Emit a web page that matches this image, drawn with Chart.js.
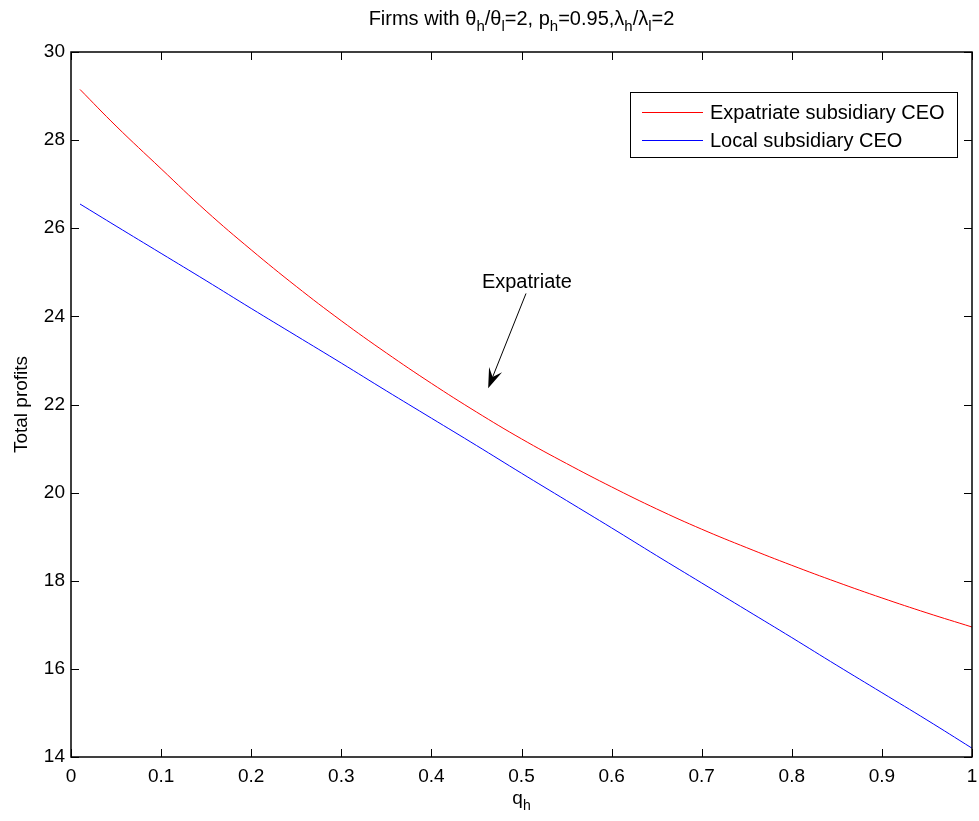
<!DOCTYPE html>
<html>
<head>
<meta charset="utf-8">
<script src="https://cdn.jsdelivr.net/npm/chart.js@4.4.0/dist/chart.umd.min.js"></script>
<style>
  html, body { margin: 0; padding: 0; background: #fff; }
</style>
</head>
<body>
<canvas id="profitChart" width="979" height="821"></canvas>
<script>
// q_h values (x axis)
var qValues = [0.01, 0.05, 0.1, 0.15, 0.2, 0.25, 0.3, 0.35, 0.4, 0.45, 0.5,
               0.55, 0.6, 0.65, 0.7, 0.75, 0.8, 0.85, 0.9, 0.95, 1.0];
// total profits, expatriate subsidiary CEO
var expatProfits = [29.15, 28.32, 27.35, 26.39, 25.51, 24.68, 23.9, 23.17, 22.48, 21.83, 21.22,
                    20.66, 20.13, 19.63, 19.17, 18.75, 18.35, 17.97, 17.61, 17.27, 16.95];
// total profits, local subsidiary CEO
var localProfits = [26.55, 26.05, 25.43, 24.81, 24.18, 23.56, 22.94, 22.31, 21.69, 21.07, 20.44,
                    19.82, 19.2, 18.57, 17.95, 17.33, 16.71, 16.08, 15.46, 14.84, 14.2];

var seriesLabels = ['Expatriate subsidiary CEO', 'Local subsidiary CEO'];

// title pieces: [text, isSubscript]
var titleParts = [['Firms with \u03b8', 0], ['h', 1], ['/\u03b8', 0], ['l', 1], ['=2, p', 0], ['h', 1],
                  ['=0.95,\u03bb', 0], ['h', 1], ['/\u03bb', 0], ['l', 1], ['=2', 0]];
var xTitleParts = [['q', 0], ['h', 1]];
var yTitle = 'Total profits';

// annotation: text position and arrow (data units)
var annotText = 'Expatriate';
var annotTextAt = [0.506, 24.78];
var annotArrowFrom = [0.505, 24.52];
var annotArrowTo = [0.463, 22.37];

var FONT = "'Liberation Sans', Arial, Helvetica, sans-serif";

function toPoints(xs, ys) {
  var pts = [];
  for (var i = 0; i < xs.length; i++) pts.push({x: xs[i], y: ys[i]});
  return pts;
}

function drawParts(c, parts, cx, baseY, size) {
  var subSize = Math.round(size * 0.75);
  var total = 0;
  parts.forEach(function (p) {
    c.font = (p[1] ? subSize : size) + 'px ' + FONT;
    total += c.measureText(p[0]).width;
  });
  var x = cx - total / 2;
  c.textBaseline = 'alphabetic';
  c.textAlign = 'left';
  parts.forEach(function (p) {
    c.font = (p[1] ? subSize : size) + 'px ' + FONT;
    c.fillText(p[0], x, baseY + (p[1] ? size * 0.3 : 0));
    x += c.measureText(p[0]).width;
  });
}

var matlabDecor = {
  id: 'matlabDecor',
  afterDraw: function (chart) {
    var c = chart.ctx;
    var a = chart.chartArea;
    var xs = chart.scales.x, ys = chart.scales.y;
    c.save();
    c.fillStyle = '#000';
    c.strokeStyle = '#000';

    // inward ticks on all four sides
    c.lineWidth = 1;
    var tl = 8;
    xs.ticks.forEach(function (t) {
      var px = Math.round(xs.getPixelForValue(t.value)) + 0.5;
      c.beginPath();
      c.moveTo(px, a.bottom); c.lineTo(px, a.bottom - tl);
      c.moveTo(px, a.top); c.lineTo(px, a.top + tl);
      c.stroke();
    });
    ys.ticks.forEach(function (t) {
      var py = Math.round(ys.getPixelForValue(t.value)) + 0.5;
      c.beginPath();
      c.moveTo(a.left, py); c.lineTo(a.left + tl, py);
      c.moveTo(a.right, py); c.lineTo(a.right - tl, py);
      c.stroke();
    });

    // axes box
    c.lineWidth = 1.5;
    c.strokeRect(a.left, a.top, a.right - a.left, a.bottom - a.top);

    // title and axis titles
    var midX = (a.left + a.right) / 2;
    drawParts(c, titleParts, midX, 25, 20);
    drawParts(c, xTitleParts, midX, 804, 19);
    c.save();
    c.translate(27, (a.top + a.bottom) / 2);
    c.rotate(-Math.PI / 2);
    c.font = '19px ' + FONT;
    c.textAlign = 'center';
    c.textBaseline = 'alphabetic';
    c.fillText(yTitle, 0, 0);
    c.restore();

    // legend box
    var lx = 630, ly = 92, lw = 327, lh = 65;
    c.fillStyle = '#fff';
    c.fillRect(lx, ly, lw, lh);
    c.lineWidth = 1;
    c.strokeStyle = '#000';
    c.strokeRect(lx + 0.5, ly + 0.5, lw, lh);
    c.font = '20px ' + FONT;
    c.textAlign = 'left';
    c.textBaseline = 'middle';
    chart.data.datasets.forEach(function (ds, i) {
      var rowY = ly + 20 + i * 28;
      c.strokeStyle = ds.borderColor;
      c.beginPath();
      c.moveTo(lx + 12, rowY + 0.5); c.lineTo(lx + 73, rowY + 0.5);
      c.stroke();
      c.fillStyle = '#000';
      c.fillText(ds.label, lx + 80, rowY + 1);
    });

    // annotation
    c.fillStyle = '#000';
    c.strokeStyle = '#000';
    c.font = '20px ' + FONT;
    c.textAlign = 'center';
    c.textBaseline = 'middle';
    c.fillText(annotText, xs.getPixelForValue(annotTextAt[0]), ys.getPixelForValue(annotTextAt[1]));
    var x1 = xs.getPixelForValue(annotArrowFrom[0]), y1 = ys.getPixelForValue(annotArrowFrom[1]);
    var x2 = xs.getPixelForValue(annotArrowTo[0]), y2 = ys.getPixelForValue(annotArrowTo[1]);
    var ang = Math.atan2(y2 - y1, x2 - x1);
    var hl = 20, hw = 7;
    c.lineWidth = 1;
    c.beginPath();
    c.moveTo(x1, y1);
    c.lineTo(x2 - Math.cos(ang) * hl * 0.6, y2 - Math.sin(ang) * hl * 0.6);
    c.stroke();
    var bx = x2 - Math.cos(ang) * hl, by = y2 - Math.sin(ang) * hl;
    var mx = x2 - Math.cos(ang) * hl * 0.6, my = y2 - Math.sin(ang) * hl * 0.6;
    c.beginPath();
    c.moveTo(x2, y2);
    c.lineTo(bx + Math.sin(ang) * hw, by - Math.cos(ang) * hw);
    c.lineTo(mx, my);
    c.lineTo(bx - Math.sin(ang) * hw, by + Math.cos(ang) * hw);
    c.closePath();
    c.fill();
    c.restore();
  }
};

var ctx = document.getElementById('profitChart').getContext('2d');
var profitChart = new Chart(ctx, {
  type: 'line',
  data: {
    datasets: [{
      label: seriesLabels[0],
      data: toPoints(qValues, expatProfits),
      borderColor: 'rgb(255, 0, 0)',
      borderWidth: 1,
      pointRadius: 0,
      fill: false,
      tension: 0.4
    }, {
      label: seriesLabels[1],
      data: toPoints(qValues, localProfits),
      borderColor: 'rgb(0, 0, 255)',
      borderWidth: 1,
      pointRadius: 0,
      fill: false,
      tension: 0.4
    }]
  },
  options: {
    responsive: false,
    animation: false,
    devicePixelRatio: 1,
    layout: { padding: { left: 0, top: 52, right: 7, bottom: 0 } },
    plugins: {
      legend: { display: false },
      title: { display: false },
      tooltip: { enabled: false }
    },
    scales: {
      x: {
        type: 'linear',
        min: 0, max: 1,
        grid: { display: false, drawTicks: false },
        border: { display: false },
        ticks: {
          stepSize: 0.1,
          padding: 8,
          color: '#000',
          maxRotation: 0,
          font: { family: FONT, size: 19 },
          callback: function (v) { return Number(v.toFixed(1)).toString(); }
        },
        afterFit: function (s) { s.height = 64; s.paddingLeft = 0; s.paddingRight = 0; }
      },
      y: {
        type: 'linear',
        min: 14, max: 30,
        grid: { display: false, drawTicks: false },
        border: { display: false },
        ticks: {
          stepSize: 2,
          padding: 6,
          color: '#000',
          font: { family: FONT, size: 19 }
        },
        afterFit: function (s) { s.width = 71; s.paddingTop = 0; s.paddingBottom = 0; }
      }
    }
  },
  plugins: [matlabDecor]
});
</script>
</body>
</html>
